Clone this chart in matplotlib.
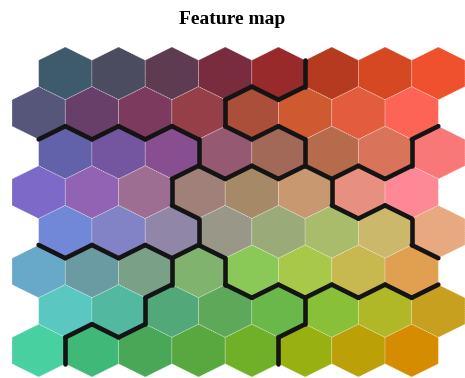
import numpy as np
import matplotlib
matplotlib.use("Agg")
import matplotlib.pyplot as plt
from matplotlib.patches import Polygon
from matplotlib.collections import LineCollection

# node colours, rows listed from top to bottom (top row shifted right)
row0 = ["#3e5b6b", "#4b4c60", "#5e3b50", "#782c3e", "#982a2c", "#b53a1f", "#d64822", "#ef512e"]
row1 = ["#55567a", "#683f68", "#7b3a5e", "#963f48", "#ac4f3a", "#cf5a30", "#e45c3e", "#fe6455"]
row2 = ["#6262ab", "#7355a0", "#884f90", "#955a72", "#a26858", "#b56b4c", "#d9735a", "#f87878"]
row3 = ["#7d69c8", "#9263b2", "#9e6e92", "#a08078", "#a68a68", "#c89870", "#e89080", "#fe8893"]
row4 = ["#7188d8", "#8282c6", "#8f86a8", "#999888", "#9aaa78", "#a8bc6c", "#cbb86a", "#e8a880"]
row5 = ["#68a8c8", "#6a9aa2", "#7aa088", "#80b46e", "#8ac858", "#a8c84a", "#c8b850", "#e0a050"]
row6 = ["#5ac8c0", "#52b8a0", "#52a878", "#5ea85a", "#6ab84a", "#88c038", "#b0b828", "#c8a020"]
row7 = ["#48d0a0", "#40b878", "#48a858", "#58a840", "#70b028", "#98b010", "#bca008", "#d58c00"]
node_colors = [row0, row1, row2, row3, row4, row5, row6, row7]

# cluster of each node, same order
clusters = [
    "AAAAABBB",
    "AAAABBBB",
    "DDDAABBC",
    "DDDEEECC",
    "DDDEEEEC",
    "FFFGEEEE",
    "FFGGGHHH",
    "FGGGGHHH",
]

title = "Feature map"

n_rows = len(node_colors)
n_cols = len(node_colors[0])
s = 1 / np.sqrt(3)  # hex radius, width = 1

fig = plt.figure(figsize=(4.65, 3.78), dpi=100)
ax = fig.add_axes([12 / 465, 1 / 378, 453 / 465, 330 / 378])

edges = {}
for R in range(n_rows):
    r = n_rows - 1 - R
    for c in range(n_cols):
        cx = c + (0.5 if R % 2 == 0 else 0.0)
        cy = r * 1.5 * s
        ang = np.deg2rad(30 + 60 * np.arange(6))
        verts = np.column_stack([cx + s * np.cos(ang), cy + s * np.sin(ang)])
        ax.add_patch(Polygon(verts, closed=True, facecolor=node_colors[R][c],
                             edgecolor=(1, 1, 1, 0.45), linewidth=0.6,
                             linestyle=(0, (1.5, 1))))
        for k in range(6):
            p1 = tuple(np.round(verts[k], 4))
            p2 = tuple(np.round(verts[(k + 1) % 6], 4))
            key = tuple(sorted([p1, p2]))
            edges.setdefault(key, []).append(clusters[R][c])

# thick lines between nodes of different clusters
segs = [list(k) for k, labs in edges.items() if len(labs) == 2 and labs[0] != labs[1]]
lc = LineCollection(segs, colors="#141414", linewidths=3.3, capstyle="round",
                    joinstyle="round", clip_on=False, zorder=3)
ax.add_collection(lc)

ax.set_xlim(-0.5, n_cols)
ax.set_ylim(-s, (n_rows - 1) * 1.5 * s + s)
ax.axis("off")

fig.text(0.5, 1 - 19 / 378, title, ha="center", va="center",
         fontsize=14, fontweight="bold", family=["Liberation Serif", "DejaVu Serif"])

fig.savefig("out.png", dpi=100)
